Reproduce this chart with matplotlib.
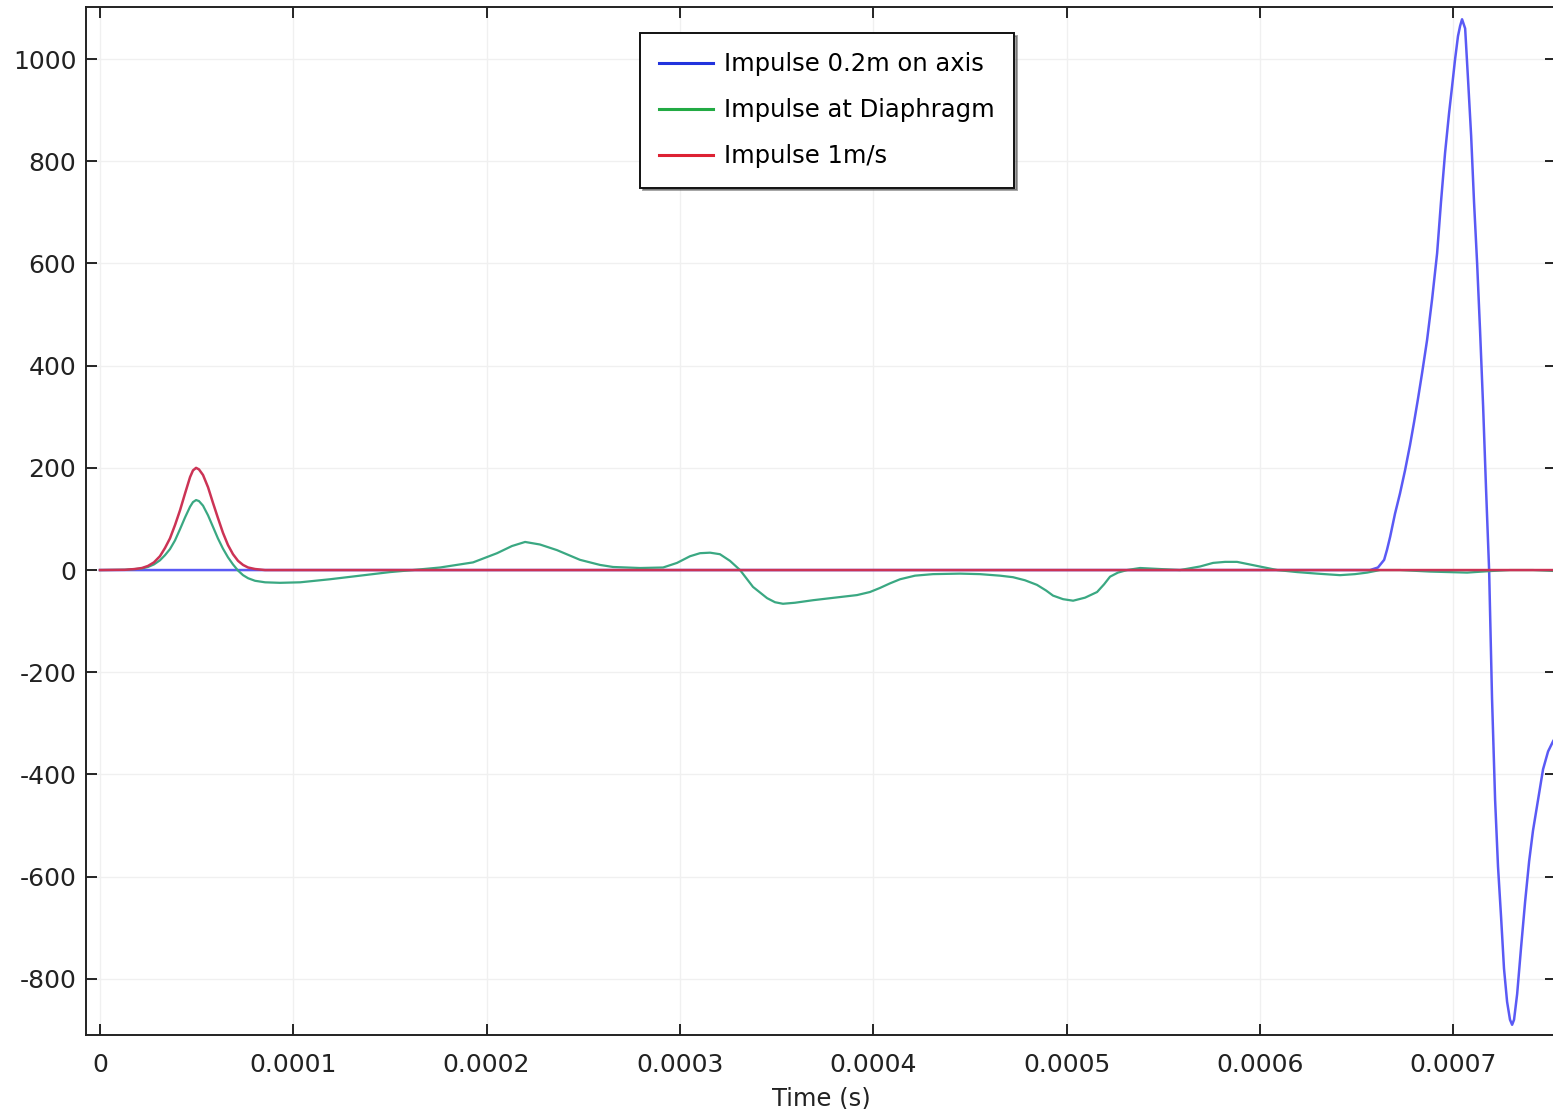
import numpy as np
import matplotlib
matplotlib.use("Agg")
import matplotlib.pyplot as plt

plt.rcParams["axes.unicode_minus"] = False

# time values are given in units of 1e-5 s
t_axis = np.array([0, 30, 65.70, 66.11, 66.43, 66.58, 66.74, 66.99, 67.25, 67.51,
                   67.77, 67.98, 68.18, 68.39, 68.65, 68.91, 69.17, 69.37, 69.58,
                   69.79, 69.94, 70.10, 70.25, 70.36, 70.46, 70.62, 70.77, 70.93,
                   71.08, 71.24, 71.39, 71.55, 71.70, 71.86, 72.01, 72.17, 72.32,
                   72.48, 72.63, 72.79, 72.94, 73.05, 73.15, 73.31, 73.51, 73.72,
                   73.93, 74.13, 74.39, 74.65, 74.91, 75.17, 75.33]) * 1e-5
v_axis = [0, 0, 0, 5, 20, 40, 65, 110, 150, 195,
          245, 290, 335, 385, 450, 530, 620, 720, 816,
          895, 945, 1000, 1045, 1065, 1078, 1060, 960, 850,
          720, 600, 470, 320, 160, 0, -250, -450, -580,
          -680, -780, -845, -880, -890, -880, -830, -740, -650,
          -570, -510, -450, -390, -355, -335, -325]

t_diaph = np.array([0, 1.29, 1.81, 2.17, 2.48, 2.79, 3.10, 3.36, 3.62, 3.88, 4.14,
                    4.40, 4.66, 4.81, 4.97, 5.12, 5.33, 5.59, 5.84, 6.10, 6.36,
                    6.62, 6.88, 7.14, 7.40, 7.66, 8.02, 8.54, 9.31, 10.35, 11.90,
                    13.45, 15.00, 16.19, 17.59, 19.30, 20.54, 21.31, 21.99, 22.76,
                    23.64, 24.83, 25.87, 26.54, 27.94, 29.13, 29.85, 30.52, 31.04,
                    31.56, 32.07, 32.59, 33.11, 33.78, 34.51, 34.92, 35.33, 35.95,
                    36.89, 38.02, 39.16, 39.83, 40.35, 40.87, 41.39, 42.16, 43.09,
                    44.49, 45.52, 46.56, 47.23, 47.85, 48.47, 48.94, 49.30, 49.82,
                    50.34, 50.96, 51.58, 51.94, 52.25, 52.66, 53.13, 53.80, 54.84,
                    55.87, 56.91, 57.58, 58.20, 58.82, 59.86, 60.90, 61.93, 62.96,
                    64.15, 64.92, 65.55, 66.22, 67.25, 68.81, 70.72, 71.91, 72.94,
                    74.13, 75.33]) * 1e-5
v_diaph = [0, 0.5, 2, 3, 6, 11, 19, 29, 41, 58, 80,
           103, 124, 133, 137, 135, 126, 107, 85, 62, 42,
           25, 11, -1, -10, -16, -21, -24, -25, -24, -18,
           -11, -4, 0, 5, 15, 33, 47, 55, 50,
           39, 20, 10, 6, 4, 5, 14, 27, 33,
           34, 31, 18, 0, -33, -55, -63, -66, -64,
           -59, -54, -49, -43, -35, -26, -18, -11, -8,
           -7, -8, -11, -14, -20, -29, -40, -50, -57,
           -60, -54, -43, -28, -13, -5, 0, 4, 2,
           0, 7, 14, 16, 16, 8, 0, -4, -7,
           -10, -8, -5, 0, 0, -3, -5, -2, 0,
           0, -2]

t_vel = np.array([0, 1.29, 1.81, 2.17, 2.48, 2.79, 3.10, 3.36, 3.62, 3.88, 4.14,
                  4.40, 4.66, 4.81, 4.97, 5.12, 5.33, 5.59, 5.84, 6.10, 6.36,
                  6.62, 6.88, 7.14, 7.40, 7.66, 8.02, 8.54, 9.5, 75.33]) * 1e-5
v_vel = [0, 0.5, 2, 4, 8, 15, 27, 43, 62, 88, 117,
         150, 182, 195, 200, 197, 186, 162, 132, 102, 73,
         49, 31, 18, 10, 5, 2, 0, 0, 0]

labels = ["Impulse 0.2m on axis", "Impulse at Diaphragm", "Impulse 1m/s"]
x_ticks = [0, 0.0001, 0.0002, 0.0003, 0.0004, 0.0005, 0.0006, 0.0007]
x_ticklabels = ["0", "0.0001", "0.0002", "0.0003", "0.0004", "0.0005", "0.0006", "0.0007"]
y_ticks = [-800, -600, -400, -200, 0, 200, 400, 600, 800, 1000]

fig = plt.figure(figsize=(15.53, 11.09), dpi=100)
ax = fig.add_axes([86 / 1553, 74 / 1109, 1470 / 1553, 1028 / 1109])

ax.plot(t_axis, v_axis, color="#5a5af5", lw=1.8, label=labels[0])
ax.plot(t_diaph, v_diaph, color="#3aa882", lw=1.6, label=labels[1])
ax.plot(t_vel, v_vel, color="#cc3355", lw=1.8, label=labels[2])

ax.set_xlim(-7.24e-6, 7.532e-4)
ax.set_ylim(-910, 1102)

ax.set_xticks(x_ticks)
ax.set_xticklabels(x_ticklabels)
ax.set_yticks(y_ticks)
ax.tick_params(axis="both", direction="in", length=8, width=1.2,
               labelsize=18, labelcolor="#222222", top=True, right=True)
ax.tick_params(axis="x", pad=13)
ax.tick_params(axis="y", pad=7)
ax.grid(True, color="#f0f0f0", lw=1)
ax.set_axisbelow(True)

for side in ["left", "bottom", "top"]:
    ax.spines[side].set_linewidth(1.4)
    ax.spines[side].set_color("#222222")
ax.spines["right"].set_visible(False)

ax.set_xlabel("Time (s)", fontsize=17.5, color="#222222", labelpad=7)

leg = ax.legend(loc="upper left", bbox_to_anchor=(640 / 1553, 1 - 33 / 1109),
                bbox_transform=fig.transFigure, borderaxespad=0,
                fontsize=17.5, fancybox=False, shadow=True, framealpha=1,
                edgecolor="#111111", handlelength=2.2, handletextpad=0.45,
                labelspacing=0.9, borderpad=0.8)
leg.get_frame().set_linewidth(1.4)
for line in leg.get_lines():
    line.set_linewidth(2.2)
leg.get_lines()[0].set_color("#2233dd")
leg.get_lines()[1].set_color("#22aa44")
leg.get_lines()[2].set_color("#dd2233")

fig.savefig("out.png", dpi=100)
